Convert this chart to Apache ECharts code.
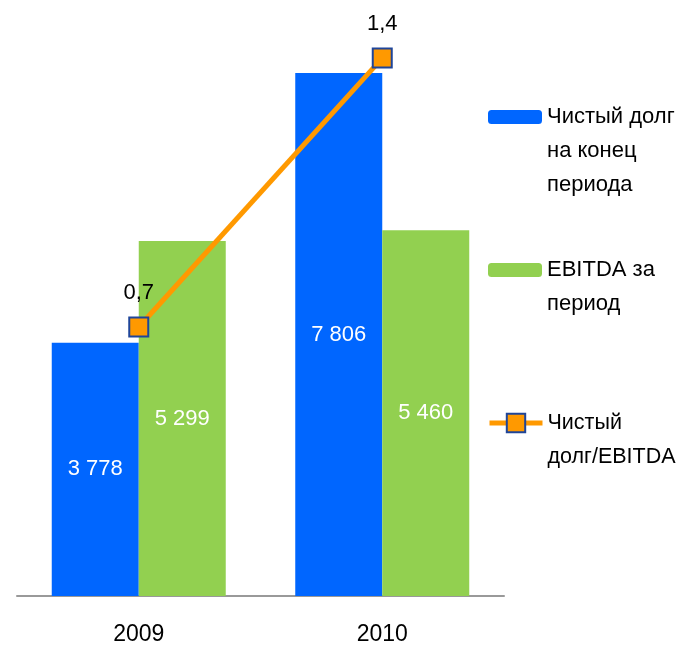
<!DOCTYPE html>
<html>
<head>
<meta charset="utf-8">
<script src="https://cdn.jsdelivr.net/npm/echarts@6/dist/echarts.min.js"></script>
<style>
  html, body { margin: 0; padding: 0; background: #fff; }
  #chart { width: 678px; height: 648px; }
</style>
</head>
<body>
<div id="chart"></div>
<script>
(function() {
  var years = ['2009', '2010'];
  var netDebt = [3778, 7806];
  var ebitda = [5299, 5460];
  var ratio = [0.7, 1.4];
  var seriesNames = ['Чистый долг на конец периода', 'EBITDA за период', 'Чистый долг/EBITDA'];
  var legendLines = [
    ['Чистый долг', 'на конец', 'периода'],
    ['EBITDA за', 'период'],
    ['Чистый', 'долг/EBITDA']
  ];

  var font = '"Liberation Sans", Arial, sans-serif';
  var blue = '#0066ff';
  var green = '#92d050';
  var orange = '#ff9900';
  var navy = '#1f4599';

  function fmt(v) {
    return String(v).replace(/\B(?=(\d{3})+(?!\d))/g, ' ');
  }

  // legend text is centred on the icon, so blank lines on top push the first line level with it
  function legendFor(i, left, top, itemHeight, extra) {
    var lines = legendLines[i];
    var pad = [];
    for (var k = 1; k < lines.length; k++) pad.push('');
    var leg = {
      data: [seriesNames[i]],
      left: left,
      top: top,
      padding: 0,
      itemWidth: 54,
      itemHeight: itemHeight,
      selectedMode: false,
      formatter: function() { return pad.concat(lines).join('\n'); },
      textStyle: { fontFamily: font, fontSize: 22, color: '#000', lineHeight: 34 }
    };
    for (var key in extra) leg[key] = extra[key];
    return leg;
  }

  var chart = echarts.init(document.getElementById('chart'), null, { renderer: 'canvas' });
  chart.setOption({
    animation: false,
    textStyle: { fontFamily: font },
    grid: { left: 17, right: 174, top: 60, bottom: 52 },
    legend: [
      legendFor(0, 488, 32, 14, {}),
      legendFor(1, 488, 219, 14, {}),
      legendFor(2, 487, 372, 23, {
        itemWidth: 53,
        lineStyle: { width: 5, color: orange },
        itemStyle: { color: orange, borderColor: navy, borderWidth: 2 },
        textStyle: { fontFamily: font, fontSize: 21.5, color: '#000', lineHeight: 34 }
      })
    ],
    xAxis: {
      type: 'category',
      data: years,
      axisLine: { lineStyle: { color: '#999', width: 2 } },
      axisTick: { show: false },
      axisLabel: { color: '#000', fontSize: 23, margin: 27, fontFamily: font }
    },
    yAxis: [
      { type: 'value', min: 0, max: 8000, show: false, splitLine: { show: false } },
      { type: 'value', min: 0, max: 1.395, show: false, splitLine: { show: false } }
    ],
    series: [
      {
        name: seriesNames[0],
        type: 'bar',
        data: netDebt,
        barWidth: 87,
        barGap: '0%',
        itemStyle: { color: blue },
        label: { show: true, position: 'inside', color: '#fff', fontSize: 22, fontFamily: font,
          formatter: function(p) { return fmt(p.value); } }
      },
      {
        name: seriesNames[1],
        type: 'bar',
        data: ebitda,
        barWidth: 87,
        barGap: '0%',
        itemStyle: { color: green },
        label: { show: true, position: 'inside', color: '#fff', fontSize: 22, fontFamily: font,
          formatter: function(p) { return fmt(p.value); } }
      },
      {
        name: seriesNames[2],
        type: 'line',
        yAxisIndex: 1,
        data: ratio,
        clip: false,
        symbol: 'rect',
        symbolSize: 19,
        lineStyle: { color: orange, width: 5 },
        itemStyle: { color: orange, borderColor: navy, borderWidth: 2 },
        label: { show: true, position: 'top', distance: 13, color: '#000', fontSize: 22, fontFamily: font,
          formatter: function(p) { return String(p.value).replace('.', ','); } },
        z: 5
      }
    ]
  });
})();
</script>
</body>
</html>
